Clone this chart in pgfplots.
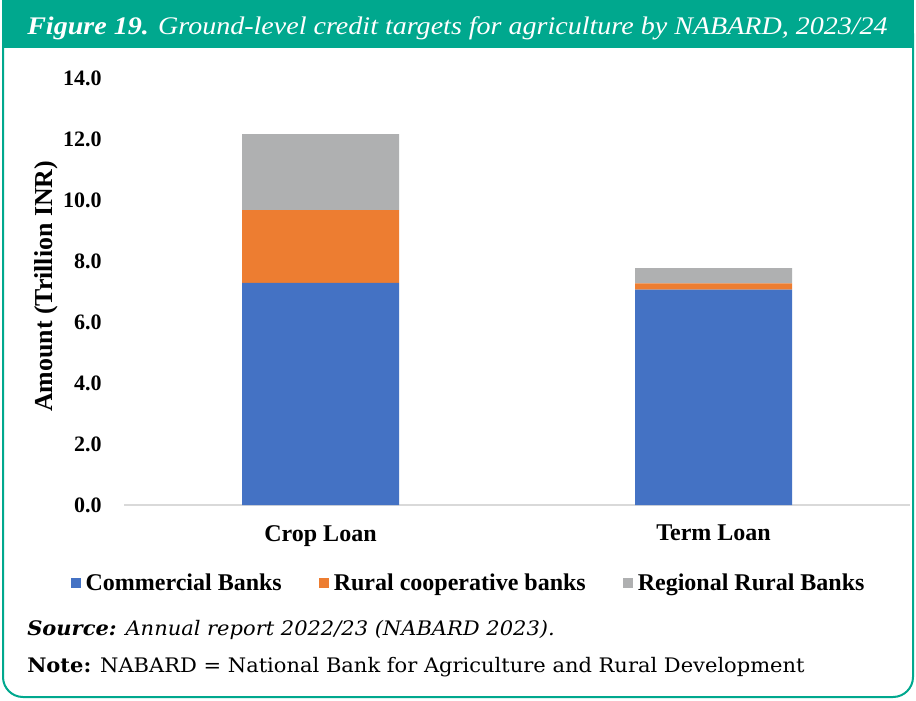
\documentclass[border=0pt]{standalone}
\usepackage{pgfplots}
\pgfplotsset{compat=1.18}
\usepackage{fontspec}
\setmainfont{Liberation Serif}
\newfontfamily\dvs[FakeStretch=1.05]{DejaVu Serif}
\newfontfamily\ttl[FakeStretch=1.107]{Liberation Serif}
\definecolor{hdr}{HTML}{00A88E}
\definecolor{cb}{HTML}{4472C4}
\definecolor{rc}{HTML}{ED7D31}
\definecolor{rr}{HTML}{AFB0B1}
\begin{document}
\begin{tikzpicture}
\path[use as bounding box] (0,0) rectangle (687pt,525pt);
\fill[white] (0,0) rectangle (687pt,525pt);
\draw[hdr, line width=1.5pt, rounded corners=15pt] (2.25pt,500pt) -- (2.25pt,2.25pt) -- (684.75pt,2.25pt) -- (684.75pt,500pt);
\fill[hdr] (1.5pt,489pt) rectangle (685.5pt,525pt);
\node[anchor=base west, white, font=\ttl\fontsize{19}{22}\selectfont\itshape, inner sep=0pt] at (20.25pt,498.75pt) {\textbf{Figure 19.} Ground-level credit targets for agriculture by NABARD, 2023/24};
\node[anchor=base west, font=\dvs\fontsize{15}{18}\selectfont\itshape, inner sep=0pt] at (20.25pt,48.75pt) {\textbf{Source:} Annual report 2022/23 (NABARD 2023).};
\node[anchor=base west, font=\dvs\fontsize{15}{18}\selectfont, inner sep=0pt] at (20.25pt,21pt) {\textbf{Note:} NABARD = National Bank for Agriculture and Rural Development};
\begin{axis}[
  at={(93pt,146.25pt)}, anchor=south west,
  scale only axis, width=589.5pt, height=320.25pt,
  xmin=-0.5, xmax=1.5, ymin=0, ymax=14,
  ybar stacked, bar width=117.75pt,
  axis x line*=bottom, axis y line*=left,
  y axis line style={draw=none},
  x axis line style={draw=black!15, line width=1pt},
  major tick length=0pt,
  xtick={0,1}, xticklabels={Crop Loan,Term Loan},
  ytick={0,2,...,14},
  /pgf/number format/assume math mode=true,
  yticklabel={\pgfmathprintnumber[fixed,fixed zerofill,precision=1]{\tick}},
  yticklabel style={font=\fontsize{16.5}{18}\selectfont\bfseries, inner sep=0pt, xshift=-16.5pt},
  xticklabel style={font=\fontsize{18}{20}\selectfont\bfseries, inner sep=0pt, anchor=north, yshift=-15pt},
  ylabel={Amount (Trillion INR)},
  ylabel style={font=\fontsize{19.4}{21}\selectfont\bfseries, at={(axis description cs:-0.099,0.512)}, anchor=center},
  legend style={at={(axis description cs:0.439,-0.183)}, anchor=center, draw=none, fill=none,
    font=\fontsize{18}{20}\selectfont\bfseries, legend columns=3,
    /tikz/every odd column/.append style={column sep=1.5pt},
    /tikz/every even column/.append style={column sep=26pt}, inner sep=0pt},
  legend image code/.code={\fill[#1] (0pt,-3.75pt) rectangle (7.5pt,3.75pt);},
  legend cell align=left,
]
\addplot[fill=cb, draw=none] coordinates {(0,7.28) (1,7.06)};
\addplot[fill=rc, draw=none] coordinates {(0,2.39) (1,0.21)};
\addplot[fill=rr, draw=none] coordinates {(0,2.49) (1,0.50)};
\legend{Commercial Banks,Rural cooperative banks,Regional Rural Banks}
\end{axis}
\end{tikzpicture}
\end{document}
